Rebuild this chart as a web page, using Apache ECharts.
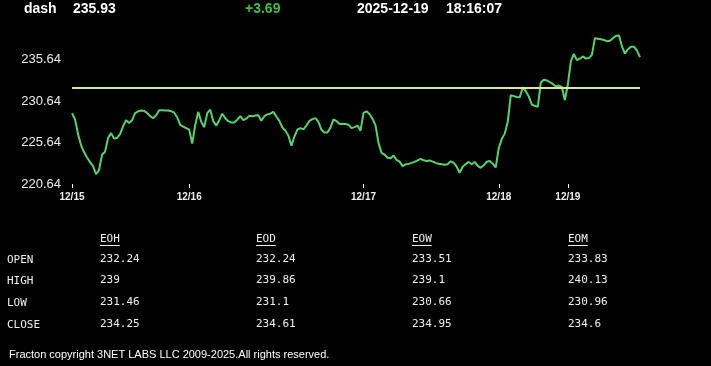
<!DOCTYPE html>
<html>
<head>
<meta charset="utf-8">
<script src="https://cdn.jsdelivr.net/npm/echarts@6/dist/echarts.min.js"></script>
<style>
html,body{margin:0;padding:0;background:#000;}
#c{width:711px;height:366px;}
</style>
</head>
<body>
<div id="c"></div>
<script>
// ---- data ----
const symbol = 'dash';
const lastPrice = '235.93';
const change = '+3.69';
const dateText = '2025-12-19';
const timeText = '18:16:07';
const openLevel = 232.24;

const dayLabels = ['12/15', '12/16', '12/17', '12/18', '12/19'];
const dayStartIndex = [0, 39, 97, 142, 165];

const yTicks = [220.64, 225.64, 230.64, 235.64];

const prices = [
  229.17, 228.45, 226.65, 225.33, 224.49, 223.83, 223.28, 222.80, 221.84, 222.32,
  224.16, 224.52, 226.17, 226.77, 226.13, 226.19, 226.65, 227.61, 228.33, 227.97,
  228.33, 229.17, 229.39, 229.50, 229.45, 229.20, 228.81, 228.57, 228.93, 229.53,
  229.53, 229.51, 229.50, 229.41, 229.23, 228.69, 227.76, 227.55, 227.37, 227.19,
  225.51, 227.73, 229.33, 228.13, 227.49, 229.17, 229.59, 228.21, 227.67, 228.33,
  229.11, 228.57, 228.21, 228.06, 228.06, 228.39, 228.81, 228.33, 228.51, 228.85,
  228.79, 228.90, 228.93, 228.27, 228.81, 229.03, 229.11, 229.33, 228.78, 228.24,
  227.45, 227.06, 226.49, 225.26, 226.36, 227.19, 227.38, 227.23, 227.68, 228.26,
  228.46, 228.58, 228.13, 227.17, 226.84, 226.85, 227.43, 228.42, 228.22, 227.88,
  227.91, 227.88, 227.79, 227.37, 227.49, 227.68, 227.07, 229.21, 229.40, 229.08,
  228.50, 227.70, 225.57, 224.39, 224.19, 223.80, 223.74, 224.07, 223.55, 223.34,
  222.80, 223.01, 223.06, 223.19, 223.31, 223.49, 223.66, 223.49, 223.40, 223.48,
  223.34, 223.19, 223.08, 223.01, 222.96, 223.02, 223.37, 223.20, 222.74, 222.00,
  222.72, 223.04, 223.30, 223.01, 223.30, 222.83, 222.59, 222.89, 223.32, 223.40,
  223.09, 222.65, 224.97, 226.05, 226.71, 228.13, 231.34, 231.23, 231.12, 231.10,
  232.30, 231.82, 231.17, 230.22, 230.06, 229.93, 232.88, 233.20, 233.12, 232.90,
  232.70, 232.38, 232.50, 232.33, 230.74, 232.66, 235.42, 236.31, 235.57, 235.74,
  236.01, 235.75, 235.81, 236.20, 238.21, 238.15, 238.09, 238.00, 237.83, 237.90,
  238.21, 238.51, 238.54, 237.23, 236.36, 236.88, 237.19, 237.18, 236.71, 235.93
];

const tableCols = ['EOH', 'EOD', 'EOW', 'EOM'];
const tableRows = ['OPEN', 'HIGH', 'LOW', 'CLOSE'];
const tableValues = [
  ['232.24', '232.24', '233.51', '233.83'],
  ['239', '239.86', '239.1', '240.13'],
  ['231.46', '231.1', '230.66', '230.96'],
  ['234.25', '234.61', '234.95', '234.6']
];
const footer = 'Fracton copyright 3NET LABS LLC 2009-2025.All rights reserved.';

// ---- chart ----
const categories = prices.map((_, i) => String(i));
const labelAt = {};
dayStartIndex.forEach((idx, k) => { labelAt[idx] = dayLabels[k]; });
const isDay = (idx) => labelAt[idx] !== undefined;

const headFont = { fontFamily: 'Liberation Sans, Arial, sans-serif', fontWeight: 'bold', fontSize: 14 };
const monoFont = 'DejaVu Sans Mono, monospace';

const graphics = [];
graphics.push({ type: 'text', left: 24, top: 2, style: Object.assign({ text: symbol, fill: '#fff' }, headFont) });
graphics.push({ type: 'text', left: 73, top: 2, style: Object.assign({ text: lastPrice, fill: '#fff' }, headFont) });
graphics.push({ type: 'text', left: 245, top: 2, style: Object.assign({ text: change, fill: '#3fbf3f' }, headFont) });
graphics.push({ type: 'text', left: 357, top: 2, style: Object.assign({ text: dateText, fill: '#fff' }, headFont) });
graphics.push({ type: 'text', left: 446, top: 2, style: Object.assign({ text: timeText, fill: '#fff' }, headFont) });

const colX = [100, 256, 412, 568];
const rowY = [260, 281, 303, 325];
tableCols.forEach((c, k) => {
  graphics.push({ type: 'text', x: colX[k], y: 239, style: { text: c, fill: '#f0f0f0', font: '11px ' + monoFont, textVerticalAlign: 'middle' } });
  graphics.push({ type: 'line', shape: { x1: colX[k], y1: 245.5, x2: colX[k] + c.length * 6.6, y2: 245.5 }, style: { stroke: '#f0f0f0', lineWidth: 1 } });
});
tableRows.forEach((r, j) => {
  graphics.push({ type: 'text', x: 7, y: rowY[j], style: { text: r, fill: '#f0f0f0', font: '11px ' + monoFont, textVerticalAlign: 'middle' } });
  tableValues[j].forEach((v, k) => {
    graphics.push({ type: 'text', x: colX[k], y: rowY[j] - 1, style: { text: v, fill: '#f0f0f0', font: '11px ' + monoFont, textVerticalAlign: 'middle' } });
  });
});
graphics.push({ type: 'text', x: 9, y: 355, style: { text: footer, fill: '#fff', font: '11px Liberation Sans, Arial, sans-serif', textVerticalAlign: 'middle' } });

const chart = echarts.init(document.getElementById('c'), null, { renderer: 'canvas' });
chart.setOption({
  backgroundColor: '#000',
  animation: false,
  grid: { left: 72, right: 71, top: 18, bottom: 182, containLabel: false },
  xAxis: {
    type: 'category',
    boundaryGap: false,
    data: categories,
    axisLine: { show: false },
    axisTick: { show: true, interval: (idx) => isDay(idx), length: 4, lineStyle: { color: '#fff', width: 1 } },
    axisLabel: {
      interval: (idx) => isDay(idx),
      formatter: (val, idx) => labelAt[idx] || '',
      color: '#eee', fontSize: 10, fontWeight: 'bold', fontFamily: 'Liberation Sans, Arial, sans-serif', margin: 8
    },
    splitLine: { show: false }
  },
  yAxis: {
    type: 'value',
    min: 220.64,
    max: 240.64,
    axisLine: { show: false },
    axisTick: { show: false },
    splitLine: { show: false },
    axisLabel: {
      customValues: yTicks,
      formatter: (v) => v.toFixed(2),
      color: '#eee', fontSize: 13, fontFamily: 'Liberation Sans, Arial, sans-serif', margin: 11
    }
  },
  series: [{
    type: 'line',
    data: prices,
    showSymbol: false,
    lineStyle: { color: '#55d46e', width: 2 },
    markLine: {
      silent: true,
      symbol: ['none', 'none'],
      label: { show: false },
      lineStyle: { color: '#dfe68c', width: 2, type: 'solid' },
      data: [{ yAxis: openLevel }]
    }
  }],
  graphic: graphics
});
</script>
</body>
</html>
